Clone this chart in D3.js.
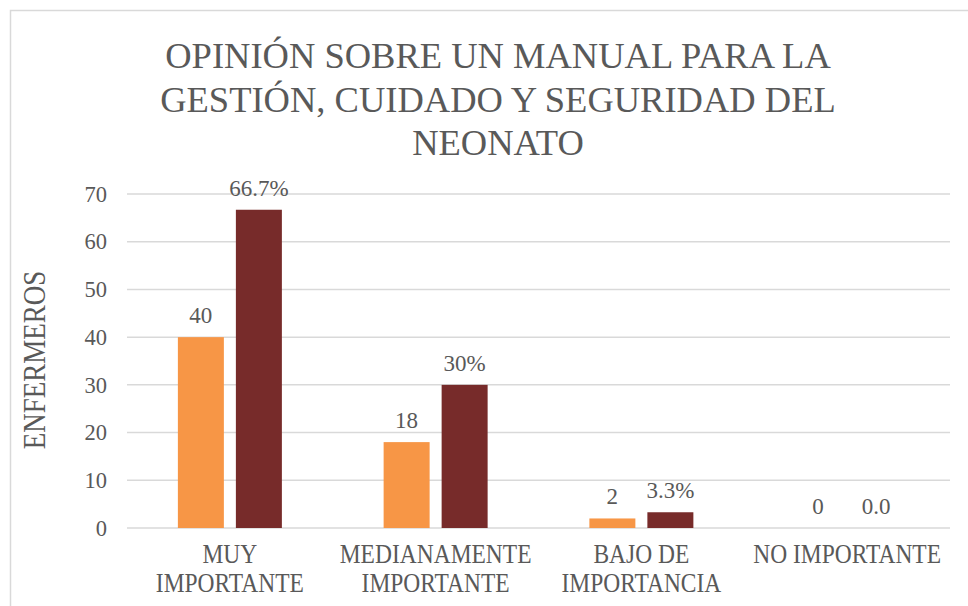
<!DOCTYPE html>
<html>
<head>
<meta charset="utf-8">
<script src="https://cdn.jsdelivr.net/npm/d3@7"></script>
<style>
  body { margin: 0; background: #fff; }
</style>
</head>
<body>
<div id="chart"></div>
<script>
// datos del grafico
var categories = [["MUY", "IMPORTANTE"], ["MEDIANAMENTE", "IMPORTANTE"], ["BAJO DE", "IMPORTANCIA"], ["NO IMPORTANTE"]];
var enfermeros = [40, 18, 2, 0];
var porcentaje = [66.7, 30, 3.3, 0.0];
var labelsEnf = ["40", "18", "2", "0"];
var labelsPct = ["66.7%", "30%", "3.3%", "0.0"];
var yTicks = [0, 10, 20, 30, 40, 50, 60, 70];
var titleLines = ["OPINIÓN SOBRE UN MANUAL PARA LA", "GESTIÓN, CUIDADO Y SEGURIDAD DEL", "NEONATO"];

var FONT = "Liberation Serif, serif";
var TXT = "#595959";
var STRETCH = 1.18; // el texto original se ve un poco alargado

var W = 968, H = 606;
var margin = {left: 127, right: 18, top: 194, bottom: 78};
var width = W - margin.left - margin.right;
var height = H - margin.top - margin.bottom;

var svg = d3.select("#chart").append("svg")
    .attr("width", W)
    .attr("height", H)
    .style("font-family", FONT);

// borde del area del grafico
svg.append("rect")
    .attr("x", 10.5).attr("y", 10.5)
    .attr("width", W + 20).attr("height", H + 20)
    .attr("fill", "none")
    .attr("stroke", "#d9d9d9")
    .attr("stroke-width", 1.5);

// titulo
svg.append("g").selectAll("text")
    .data(titleLines)
    .enter().append("text")
    .attr("x", 498)
    .attr("y", function (d, i) { return 68 + i * 43.5; })
    .attr("text-anchor", "middle")
    .style("font-family", FONT)
    .style("font-size", "36.5px")
    .attr("fill", TXT)
    .text(function (d) { return d; });

var g = svg.append("g")
    .attr("transform", "translate(" + margin.left + "," + margin.top + ")");

var y = d3.scaleLinear().domain([0, 70]).range([height, 0]);
var x0 = d3.scaleBand().domain(d3.range(categories.length)).range([0, width]);
var x1 = d3.scaleBand().domain([0, 1]).range([0, 104]).paddingInner(0.207);
var groupOff = (x0.bandwidth() - 104) / 2;

// lineas de cuadricula
g.selectAll(".grid")
    .data(yTicks)
    .enter().append("line")
    .attr("x1", 0).attr("x2", width)
    .attr("y1", function (d) { return y(d); })
    .attr("y2", function (d) { return y(d); })
    .attr("stroke", "#d9d9d9")
    .attr("stroke-width", 1.5);

// eje y
var yAxis = g.append("g")
    .call(d3.axisLeft(y).tickValues(yTicks).tickSize(0).tickPadding(20));
yAxis.select(".domain").remove();
yAxis.selectAll("text")
    .style("font-size", "22.5px")
    .style("font-family", FONT)
    .attr("fill", TXT);

// barras
var series = [
    {vals: enfermeros, labels: labelsEnf, color: "#F79646"},
    {vals: porcentaje, labels: labelsPct, color: "#772B2A"}
];

series.forEach(function (s, si) {
    g.selectAll(".bar" + si)
        .data(s.vals)
        .enter().append("rect")
        .attr("class", "bar" + si)
        .attr("x", function (d, i) { return x0(i) + groupOff + x1(si); })
        .attr("y", function (d) { return y(d); })
        .attr("width", x1.bandwidth())
        .attr("height", function (d) { return height - y(d); })
        .attr("fill", s.color);

    g.selectAll(".lbl" + si)
        .data(s.vals)
        .enter().append("text")
        .attr("x", function (d, i) { return x0(i) + groupOff + x1(si) + x1.bandwidth() / 2; })
        .attr("y", function (d) { return y(d) - 14; })
        .attr("text-anchor", "middle")
        .style("font-family", FONT)
        .style("font-size", "23px")
        .attr("fill", TXT)
        .text(function (d, i) { return s.labels[i]; });
});

// etiquetas de categorias
var cat = g.selectAll(".cat")
    .data(categories)
    .enter().append("text")
    .attr("class", "cat")
    .attr("text-anchor", "middle")
    .style("font-family", FONT)
    .style("font-size", "23.5px")
    .attr("fill", TXT)
    .attr("transform", function (d, i) {
        return "translate(" + (x0(i) + x0.bandwidth() / 2) + "," + (height + 35) + ")scale(1," + STRETCH + ")";
    });
cat.selectAll("tspan")
    .data(function (d) { return d; })
    .enter().append("tspan")
    .attr("x", 0)
    .attr("dy", function (d, i) { return i === 0 ? 0 : 29 / STRETCH; })
    .text(function (d) { return d; });

// titulo del eje y
svg.append("text")
    .attr("transform", "translate(45,360)rotate(-90)scale(1," + STRETCH + ")")
    .attr("text-anchor", "middle")
    .style("font-family", FONT)
    .style("font-size", "27px")
    .attr("fill", TXT)
    .text("ENFERMEROS");
</script>
</body>
</html>
